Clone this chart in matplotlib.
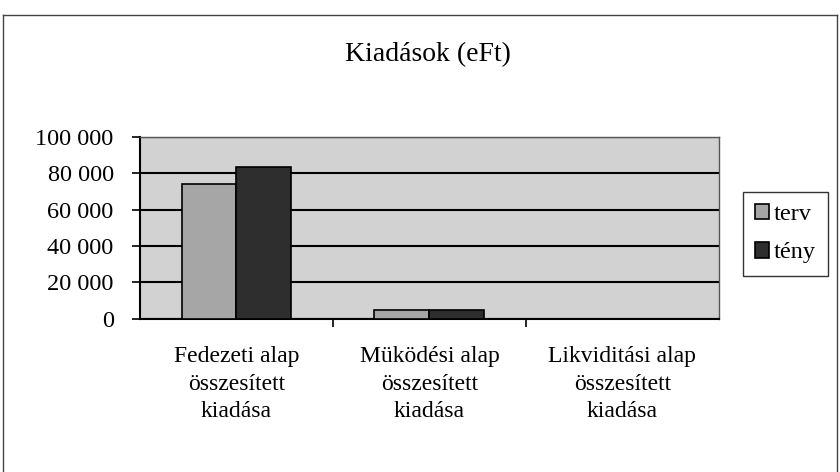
import numpy as np
import matplotlib
matplotlib.use("Agg")
from matplotlib import pyplot as plt
from matplotlib.lines import Line2D
from matplotlib.patches import Patch

plt.rcParams["font.family"] = ["Liberation Serif", "DejaVu Serif"]

categories = ["Fedezeti alap\nösszesített\nkiadása",
              "Müködési alap\nösszesített\nkiadása",
              "Likviditási alap\nösszesített\nkiadása"]
terv = [74000, 4800, 0]
teny = [83500, 4600, 0]
series_names = ["terv", "tény"]
yticks = [0, 20000, 40000, 60000, 80000, 100000]
ytick_labels = ["0", "20 000", "40 000", "60 000", "80 000", "100 000"]

fig = plt.figure(figsize=(8.4, 4.72), dpi=100)
ax = fig.add_axes([0.1667, 0.325, 0.689, 0.385])
ax.set_facecolor("#d2d2d2")

x = np.arange(len(categories))
w = 0.285
ax.bar(x - w / 2, terv, w, color="#a6a6a6", edgecolor="black", linewidth=1.2, zorder=3)
ax.bar(x + w / 2, teny, w, color="#2e2e2e", edgecolor="black", linewidth=1.2, zorder=3)

ax.set_xlim(-0.5, 2.5)
ax.set_ylim(0, 100000)
ax.set_yticks(yticks)
ax.set_yticklabels(ytick_labels, fontsize=17.5)
ax.set_xticks([0.5, 1.5], minor=False)
ax.set_xticklabels([])
ax.set_xticks(x, minor=True)
ax.set_xticklabels(categories, minor=True, fontsize=17, linespacing=1.4)
ax.tick_params(axis="x", which="minor", length=0, pad=20)
ax.tick_params(axis="x", which="major", length=6, width=1.2, direction="out")
ax.tick_params(axis="y", length=6, width=1.2, pad=13)
ax.grid(axis="y", color="black", linewidth=1.5, zorder=1)
ax.set_axisbelow(True)
for side in ["top", "right"]:
    ax.spines[side].set_color("#555555")
    ax.spines[side].set_linewidth(1.0)
for side in ["left", "bottom"]:
    ax.spines[side].set_linewidth(1.5)

fig.text(0.51, 0.885, "Kiadások (eFt)", ha="center", va="center", fontsize=20)

handles = [Patch(facecolor="#a6a6a6", edgecolor="black", linewidth=1.2),
           Patch(facecolor="#2e2e2e", edgecolor="black", linewidth=1.2)]
leg = fig.legend(handles, series_names, loc="center left",
                 bbox_to_anchor=(0.884, 0.505), fontsize=17.5, frameon=True,
                 fancybox=False, edgecolor="black", handlelength=0.6,
                 handleheight=0.6, handletextpad=0.2, labelspacing=0.7,
                 borderpad=0.5, borderaxespad=0.0)
leg.get_frame().set_linewidth(1.0)

# chart outer border
border = dict(color="#444444", linewidth=1.0, transform=fig.transFigure)
fig.add_artist(Line2D([0.004, 0.997], [0.968, 0.968], **border))
fig.add_artist(Line2D([0.004, 0.004], [0.0, 0.968], **border))
fig.add_artist(Line2D([0.997, 0.997], [0.0, 0.968], **border))

fig.savefig("out.png", dpi=100)
